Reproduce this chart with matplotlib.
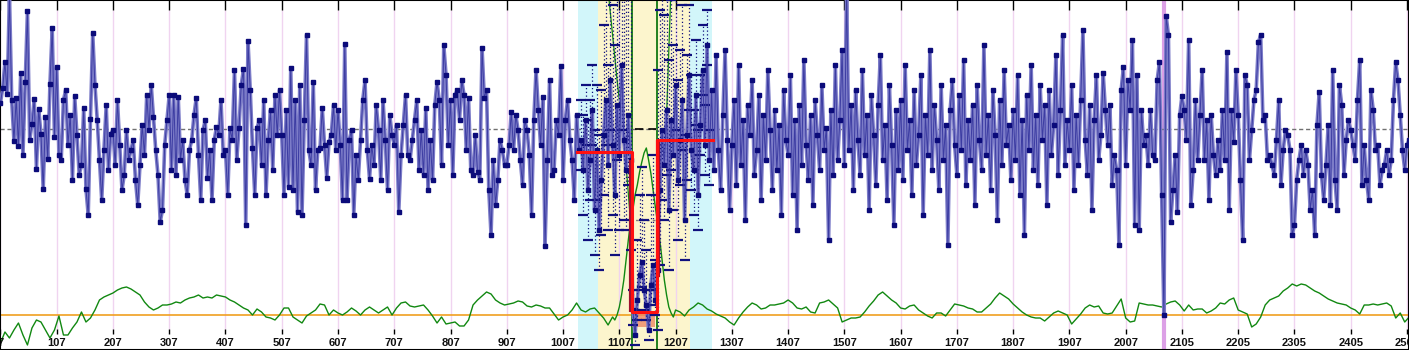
import numpy as np
import matplotlib.pyplot as plt
from matplotlib.patches import Rectangle

# main series, one value every 4 index units
blue_left = [
    26, 41, 67, 35, 135, 29, -12, 31, -17, 56, -26, 47, 118, -11, 5, 30, -40, 20, -5, -60, 12, -30, 45, 101, -8,
    62, -26, -31, 29, 39, -16, 14, -51, 33, -6, -46, -36, 21, -60, -86, 10, 96, 44, 9, -31, -71, -21, 24, -41, -5,
    -1, -36, 29, -16, -61, -46, -1, -31, -21, -11, -51, -76, -36, 4, -26, 34, -1, 44, 12, -21, -46, -93, -81, -16, 9,
    34, -41, 34, -46, 32, -31, -11, -51, -66, -21, -11, 14, 31, -26, -71, -1, 9, -49, -21, -71, -11, 2, -6, 29, -26,
    -21, -66, 1, -11, 59, -31, 1, 44, 60, -96, 88, 39, -19, -66, 1, 9, -36, 29, -66, -11, 19, -41, 34, -6, 39,
    -6, -66, 19, -58, 61, -61, 29, -83, 44, -86, 9, 94, -21, -36, 47, -61, -21, -19, 21, -16, -49, -13, -6, 24, -21,
    19, -16, -71, 85, -71, -11, -1, -86, -26, -51, -11, 29, 49, -21, -50, -16, -36, 24, -1, -51, 29, -11, -61, 14, -6,
    -16, 4, -83, -26, 4, 34, -26, -31, -11, 9, 29, -41, -1, -46, 21, -61, -11, -51, 24, 47, 29, -36, 84, 54, -16,
    29, -46, 34, 39, 9, 49, 34, -21, 31, -41, -46, -6, -43, -51, 81, 31, 39, -61, -106, -31, -76, -51, -11, -21, -36,
    -36, -16, 17, -21, 14, -1, -31, -56, 9, -1, -26, -86, 9, 59, 19, -16, 32, -117, -31, 49, -46, -41, 9, -6, 63,
    -51, 9, 29, -11, -31, -71, 14, -21,
]
blue_mid = [
    -11, -41, 9, -61, -31, 19, -81, -21, -101, -51, -6, 29, -36, 49, -16, -66, 24, -26, 64, -11, -41, 14, -31,
    -181, -206, -171, -146, -133, -161, -176, -201, -156, -136, -171,
    -141, -61, -1, -36, 19, -81, 9, -26, 44, -51, -11, 29, -91, -6, 54, -21, -41, 34, -66, 4, 59, -16, 84, -31,
]
blue_right = [
    39, -41, 74, -21, -61, 14, 79, -11, -81,
    -16, 29, -56, 64, -36, 9, -91, 24, -6, 49, -46, -21, 34, -71, 14, -31, 59, -1, -61, 19, -41, 4, -86, 39, -11,
    -26, 54, -66, 9, -101, 24, -36, 69, -16, -51, 14, -76, 29, -6, -41, 44, -21, 1, -111, 19, -46, 64, -31, 9, 79,
    -36, 140, -21, 24, -61, 39, -11, -46, 59, -26, 14, -81, 34, -6, -56, 24, 74, -31, 4, -71, 44, -16, -96, 19, -41,
    29, -51, 64, -21, 9, -66, 39, -36, -6, 54, -86, 14, -26, 79, -41, 24, -11, -61, 44, -31, 4, -116, 19, 49, -16,
    -46, 34, -21, 69, -56, 9, -31, 24, -76, 44, -11, -41, 84, -26, 14, -61, 39, -6, -91, 29, -36, 59, -16, 4, -51,
    19, -31, 54, -66, 9, -106, 34, -21, 64, -41, 14, -56, 44, -11, 24, -76, 39, -26, 4, 74, -46, 19, 94, -36, 9,
    -21, 44, -61, 14, -36, 29, 99, -11, -46, 24, -81, 9, 54, -31, -6, 56, 19, -16, 24, -56, -26, -41, -116, 39, 62,
    -36, 49, 19, 89, -96, 54, -101, 19, -16, -6, -36, 19, -26, -31, 49, 67, -66, -186, 113, 94, -93, -61, -26, -83, 14,
    33, 19, -11, 89, -76, -41, 29, -31, 14, 59, -31, 9, -71, 14, -26, -46, -11, -41, 19, -31, 77, -81, 19, -13, 59,
    14, -51, -111, 54, 44, -31, -1, 29, 39, 87, 94, 9, 14, -31, -26, -36, -46, -11, 29, -56, -21, -1, -6, -21, -106,
    -96, -51, -31, -16, -46, -21, -36, -81, -61, -106, 4, 37, -46, -71, -36, 4, -76, 59, -51, -81, 44, 24, -46, -11, 9,
    -1, -16, -31, 29, 69, -56, -16, -51, -71, 39, 19, -21, -16, -56, -41, -36, -21, -46, -31, 29, 67, 49, 14, -21, -41,
    -16, -11,
]
# error ranges of the middle block
err_up = [40, 55, 35, 70, 60, 45, 80, 65, 95, 90, 110, 120, 100, 130, 140, 150, 150, 160, 170, 180, 190, 200, 220,
          20, 25, 60, 80, 95, 70, 55, 40, 90, 110, 40,
          200, 180, 170, 150, 140, 150, 120, 110, 130, 100, 90, 95, 85, 80, 70, 75, 60, 55, 65, 50, 45, 40, 35, 30]
err_dn = [30, 45, 25, 50, 40, 35, 45, 50, 40, 55, 60, 45, 65, 50, 70, 60, 55, 75, 65, 80, 60, 70, 90,
          15, 10, 20, 15, 25, 20, 15, 10, 20, 25, 15,
          60, 75, 70, 55, 65, 60, 50, 55, 45, 60, 45, 50, 40, 45, 35, 40, 45, 30, 35, 30, 25, 30, 20, 25]

# lower indicator
green_left = [
    -28, -17, -23, -15, -8, -20, -30, -13, -5, -7, -15, -23, -15, -1, -20, -20, -13, -7, 3, -7,
    -3, 5, 15, 18, 20, 22, 25, 27, 28, 26, 23, 20, 13, 8, 5, 7, 10, 10, 11, 13,
    12, 15, 17, 18, 20, 17, 18, 17, 20, 19, 18, 15, 13, 10, 7, 5, 0, 6, 3, -2,
    -3, -5, 0, 7, 7, -2, -5, -8, -1, 2, 5, 11, 10, 0, 5, 2, 0, 3, 7, 4,
    0, 5, 8, 5, 2, 5, 8, 0, 7, 12, 13, 9, 8, 9, 10, 5, -1, -8, -2, -9,
    -8, -7, -11, -11, -5, 10, 15, 19, 23, 21, 15, 12, 10, 11, 12, 14, 13, 9, 8, 10,
    9, 7, 7, 1, -5, -2, 0, 5, 12, 5, 3, 6, 7, 2, -3, -10, -2,
]
green_mid = [-5, 0, 8, 20, 35, 55, 75, 93, 105, 120, 130, 143, 153, 162, 167,
             155, 142, 125, 108, 92, 75, 55, 35, 20, 8, 2, -2]
green_right = [
    5, 3, -1, 5, 8, 12, 10, 6, 4, 1, -1, -3, -7, -10, -3, 3, 8, 12, 10, 6,
    7, 10, 10, 11, 12, 15, 12, 7, 6, 8, 3, 2, 12, 13, 15, 11, 7, -7, -5, -3,
    -3, -2, 3, 9, 14, 20, 23, 19, 15, 12, 7, 6, 9, 10, 5, 2, -1, -3, 2, 2,
    -1, 5, 11, 10, 9, 7, 6, 3, 3, 7, 11, 17, 22, 19, 16, 11, 7, 3, 0, -2,
    -3, -3, -6, -2, 2, 4, 2, 0, -9, -4, 1, 7, 10, 8, 9, 2, 1, 2, 9, 16,
    -3, -7, -6, 12, 11, 10, 10, 9, 8, 11, 13, 14, 10, 4, 10, 5, 6, 6, 2, 4,
    7, 12, 11, 15, 17, 5, 3, 1, -12, -9, -2, 10, 15, 17, 19, 24, 27, 31, 29, 31,
    30, 27, 24, 22, 19, 16, 14, 12, 11, 10, 7, 5, 1, 10, 10, 11, 10, 11, 12, 9,
    -3, 2, -7, -2,
]
green_hi_left = [325, 280, 235, 195, 150, 93]
green_hi_right = [92, 155, 200, 330]

tick_labels = ['7', '107', '207', '307', '407', '507', '607', '707', '807', '907', '1007', '1107', '1207',
               '1307', '1407', '1507', '1607', '1707', '1807', '1907', '2007', '2105', '2205', '2305',
               '2405', '2505']

red_edges = [1025, 1122.6, 1167.2, 1266]
red_levels = [-23, -183, -11]

bx = np.concatenate([np.arange(len(blue_left)) * 4,
                     1032 + np.arange(len(blue_mid)) * 4,
                     1264 + np.arange(len(blue_right)) * 4])
by = np.array(blue_left + blue_mid + blue_right)
mx = 1032 + np.arange(len(blue_mid)) * 4

gx = np.concatenate([np.arange(len(green_left)) * 8,
                     1092 + np.arange(len(green_mid)) * 4,
                     1200 + np.arange(len(green_right)) * 8])
gy = np.array(green_left + green_mid + green_right)

fig = plt.figure(figsize=(14.09, 3.5), dpi=100)

# back layer: bands, grid, indicator
axg = fig.add_axes([0, 0, 1, 1])
axg.set_xlim(-0.8, 2503.6)
axg.set_ylim(-35, 315)
axg.axvspan(1026.6, 1062.2, color='#d2f6fa', lw=0)
axg.axvspan(1062.2, 1225.7, color='#fcf5cd', lw=0)
axg.axvspan(1225.7, 1264.8, color='#d2f6fa', lw=0)
tx = np.arange(len(tick_labels)) * 100
trans = axg.get_xaxis_transform()
axg.vlines(tx, 0.06, 1 - 10 / 350, color='#f0d4f0', lw=1, transform=trans)
axg.vlines(tx, 1 - 10 / 350, 1, color='black', lw=1, transform=trans)
axg.vlines(tx, 0.045, 0.06, color='black', lw=1, transform=trans)
for x, lab in zip(tx, tick_labels):
    axg.text(x, 0.02, lab, transform=trans, ha='center', va='center', fontsize=8,
             fontweight='bold', family='Liberation Sans', color='#101010')
axg.axhline(0, color='#f0a020', lw=1.2)
axg.plot(gx, gy, color='#118811', lw=1)
axg.plot(1080 + np.arange(len(green_hi_left)) * 8, green_hi_left, color='#118811', lw=0.9)
axg.plot(1168 + np.arange(len(green_hi_right)) * 8, green_hi_right, color='#118811', lw=0.9)
axg.axvline(1122.6, color='#117711', lw=1.3)
axg.axvline(1167.2, color='#117711', lw=1.3)
axg.set_xticks([])
axg.set_yticks([])
for s in axg.spines.values():
    s.set_visible(False)

# front layer: price-like series
ax = fig.add_axes([0, 0, 1, 1], sharex=axg)
ax.patch.set_visible(False)
ax.set_ylim(-221, 129)
ax.axvline(2068, color='#dca0e6', lw=3, zorder=1)
ax.axhline(0, color='#707070', lw=1, ls=(0, (3, 2)), zorder=2)
ax.plot([1128, 1165], [0, 0], color='black', lw=1.2, ls=(0, (5, 3)), zorder=2)
ax.plot([1119, 1163], [-91, -91], color='#808080', lw=1, ls=(0, (2, 2)), zorder=2)

ax.add_patch(Rectangle((1122.6, -198), 40.6, 16, color='#ee8866', alpha=0.8, lw=0, zorder=2))

eb = ax.errorbar(mx, blue_mid, yerr=[err_dn, err_up], fmt='none', ecolor='#10107e',
                 elinewidth=0.9, capsize=3.5, capthick=1.6, zorder=4)
eb[2][0].set_linestyle((0, (1, 2)))

ax.plot(bx, by, color='#7c7cc8', lw=2.6, zorder=3, solid_joinstyle='round')
ax.plot(bx, by, color='#3c3ca2', lw=0.7, zorder=4)
ax.plot(bx, by, ls='none', marker='s', ms=2.2, color='#0b0b7a', zorder=5)

ax.vlines(1121.3, red_levels[0] - 8, red_levels[1], color='#a01030', lw=3, zorder=6)
ax.vlines(1168.6, red_levels[2], -148, color='#a01030', lw=3, zorder=6)
ax.plot(red_edges, red_levels + [red_levels[-1]], drawstyle='steps-post', color='#ff1010', lw=2.2, zorder=7)

ax.set_xticks([])
ax.set_yticks([])
for s in ax.spines.values():
    s.set_color('black')
    s.set_linewidth(1.5)

fig.savefig('out.png', dpi=100)
